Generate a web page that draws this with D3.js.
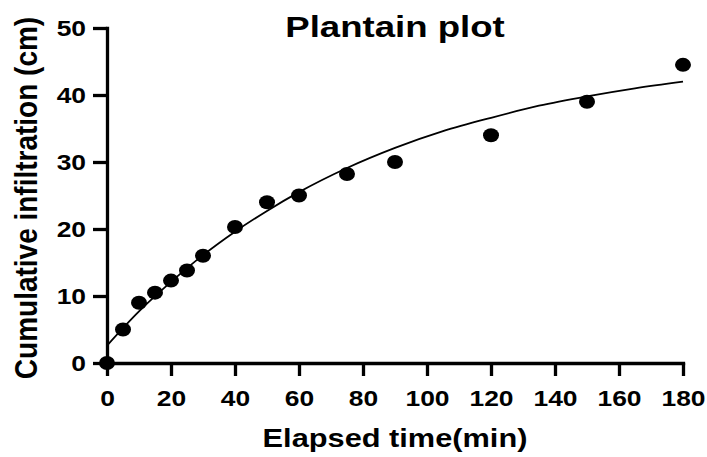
<!DOCTYPE html>
<html>
  <body style="margin:0;background:#fff;">
    <style>
      text { font-family: Arial, "Liberation Sans", sans-serif; font-weight: bold; }
    </style>
    <script src="https://cdnjs.cloudflare.com/ajax/libs/d3/7.8.5/d3.min.js"></script>
    <script type="text/javascript">
      // Plantain plot: cumulative infiltration vs elapsed time
      const timeMin = [0, 5, 10, 15, 20, 25, 30, 40, 50, 60, 75, 90, 120, 150, 180];
      const infiltration = [0, 5, 9, 10.5, 12.3, 13.8, 16, 20.3, 24, 25, 28.2, 30, 34, 39, 44.5];
      // fitted curve
      const fitX = [0, 10, 20, 30, 40, 50, 60, 75, 90, 105, 120, 135, 150, 165, 180];
      const fitY = [2.6, 7.7, 12.1, 16.1, 19.6, 22.7, 25.5, 29.1, 32.1, 34.6, 36.6, 38.4, 39.8, 41.0, 42.0];
      const xTicks = [0, 20, 40, 60, 80, 100, 120, 140, 160, 180];
      const yTicks = [0, 10, 20, 30, 40, 50];

      const width = 707;
      const height = 457;
      const margin = {top: 28, right: 24, bottom: 94, left: 107};
      const stretch = 1.2; // the original picture is a bit wider than tall

      const svg = d3.select('body')
        .append('svg')
        .attr('width', width)
        .attr('height', height);

      const x = d3.scaleLinear().domain([0, 180]).range([margin.left, width - margin.right]);
      const y = d3.scaleLinear().domain([0, 50]).range([height - margin.bottom, margin.top]);

      const gx = svg.append('g')
        .attr('transform', `translate(0,${y(0)})`)
        .call(d3.axisBottom(x).tickValues(xTicks).tickSize(13).tickSizeOuter(0).tickPadding(14));

      const gy = svg.append('g')
        .attr('transform', `translate(${x(0)},0)`)
        .call(d3.axisLeft(y).tickValues(yTicks).tickSize(14).tickSizeOuter(0));

      [gx, gy].forEach((g) => {
        g.selectAll('path, line').attr('stroke', '#000').attr('stroke-width', 3.3);
        g.select('.domain').attr('stroke-linecap', 'square');
        g.selectAll('text')
          .attr('font-size', 22)
          .attr('font-family', 'Arial, "Liberation Sans", sans-serif')
          .attr('fill', '#000');
      });
      gx.selectAll('text').attr('transform', `scale(${stretch},1)`);
      gy.selectAll('text').attr('x', -17.5).attr('transform', `scale(${stretch},1)`);

      const line = d3.line()
        .x((d, i) => x(fitX[i]))
        .y((d) => y(d))
        .curve(d3.curveMonotoneX);

      svg.append('path')
        .datum(fitY)
        .attr('d', line)
        .attr('fill', 'none')
        .attr('stroke', '#000')
        .attr('stroke-width', 1.8);

      svg.selectAll('ellipse.pt')
        .data(infiltration)
        .enter()
        .append('ellipse')
        .attr('class', 'pt')
        .attr('cx', (d, i) => x(timeMin[i]))
        .attr('cy', (d) => y(d))
        .attr('rx', 8)
        .attr('ry', 7)
        .attr('fill', '#000');

      const midX = (x(0) + x(180)) / 2;

      svg.append('text')
        .attr('transform', `translate(${midX},37) scale(1.22,1)`)
        .attr('text-anchor', 'middle')
        .style('font-size', '30px')
        .text('Plantain plot');

      svg.append('text')
        .attr('transform', `translate(${midX},447) scale(1.23,1)`)
        .attr('text-anchor', 'middle')
        .style('font-size', '25px')
        .text('Elapsed time(min)');

      svg.append('text')
        .attr('transform', 'translate(37,198) rotate(-90) scale(1,1.1)')
        .attr('text-anchor', 'middle')
        .style('font-size', '28px')
        .text('Cumulative infiltration (cm)');
    </script>
  </body>
</html>
